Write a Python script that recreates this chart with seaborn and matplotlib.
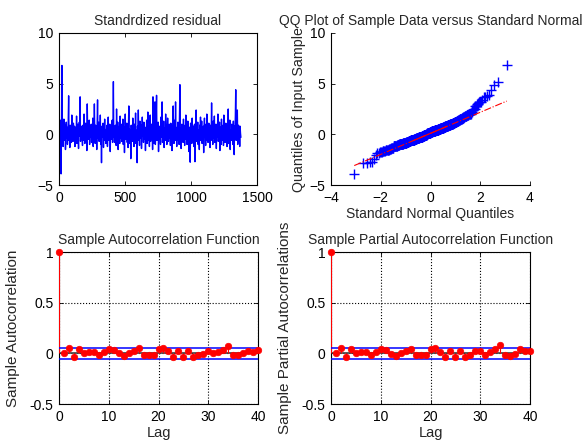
import numpy as np
import matplotlib
matplotlib.use("Agg")
import matplotlib.pyplot as plt
import seaborn as sns
from statistics import NormalDist

# standardized residuals (one value every 3 samples)
resid = [
    0.8, -0.9, 0.3, 1.4, -0.5, -3.9, 0.6, 6.8, -0.2, 1.1, -1.2, 0.1, 1.5, -0.6, 0.4, 0.9, -1.5, 0.0, 1.2, -0.4,
    0.7, -1.0, 0.2, 1.3, 3.8, -0.6, 0.4, -1.3, 0.9, -0.1, 0.5, -0.8, 1.9, -0.3, 0.3, -0.7, 1.1, 0.1, -0.5, 0.8,
    -1.2, 0.3, 0.6, -0.4, 1.8, -0.9, 0.1, 1.0, -0.2, -1.4, 0.5, 1.2, -0.2, 3.7, -0.7, 0.3, 0.8, -0.5, 0.0, -1.1,
    0.9, 0.4, -0.6, 2.0, -0.1, -0.9, 0.6, 1.1, -0.4, 0.2, -1.6, 3.0, 0.3, -0.5, 0.7, -0.1, 1.4, -1.0, 0.4, -0.3,
    0.1, 1.0, -0.8, 0.5, -0.2, 1.6, -1.2, 0.3, -0.5, 3.0, 0.1, -0.9, 0.9, -0.3, 0.5, -1.5, 0.7, 3.4, -0.4, 0.2,
    1.2, -0.7, 0.3, -0.1, 1.9, -1.0, 0.4, -2.8, 0.8, -0.3, 0.1, 1.1, -1.3, 0.6, -0.2, 1.5, -0.6, 0.3, -0.9, 0.5,
    -0.1, 0.9, -1.2, 0.2, 1.7, -0.6, 0.5, -0.3, 1.0, -1.7, 0.3, 0.7, -0.5, 0.0, 1.4, -0.8, 0.4, 5.2, -0.3, 0.6,
    -0.8, 0.3, 0.9, -0.2, -1.1, 2.5, 0.1, -0.6, 1.2, -1.5, 0.5, 0.0, 0.8, -0.9, 1.8, -0.4, 0.2, 1.0, -0.7, 0.3,
    -0.3, 1.5, -1.0, 0.4, 0.7, -1.8, 0.2, 2.0, -0.5, 0.6, -0.1, 1.1, -0.8, 0.3, -1.3, 0.8, 2.8, -0.4, 0.5, -0.9,
    0.4, -2.4, 0.9, -0.2, 0.6, -0.7, 1.6, -0.3, 0.1, -1.2, 1.0, 0.1, -0.6, 2.1, -0.9, 0.4, -0.3, -2.8, 0.8, -0.1,
    2.4, -0.6, 0.5, -1.1, 1.3, 0.0, -0.4, 0.9, -1.4, 0.3, 1.7, -0.2, 0.6, -0.8, 1.2, -0.5, 0.2, 0.7, -1.6, 0.4,
    -0.1, 1.4, -0.9, 0.3, 2.2, -0.6, 0.8, -0.3, -1.2, 0.6, 1.9, -0.7, 0.1, 1.0, -0.4, 0.5, -1.5, 3.7, 0.1, -0.9,
    1.0, -0.4, 3.2, -1.0, 0.3, 1.5, 3.85, -0.6, 0.4, -0.1, 1.2, -1.7, 0.6, 0.8, -0.5, 0.2, -1.0, 1.7, -0.3, 0.7,
    3.2, -0.8, 0.4, -0.2, 1.3, -1.3, 0.6, 0.1, -0.6, 2.0, -0.3, 0.9, -1.0, 0.3, 1.6, -0.1, -0.7, 0.5, 1.0, -0.4,
    0.1, -1.1, 1.1, -0.3, 0.6, -1.6, 0.8, -0.5, 2.8, 0.2, -0.9, 0.4, 1.4, -0.6, 3.2, -0.1, 0.3, -1.2, 0.7, -0.2,
    1.2, -0.6, 0.3, -1.0, 1.8, 4.9, -0.4, 0.6, -1.4, 0.1, 1.0, -0.3, 0.5, -0.8, 1.5, -0.1, 0.4, -1.1, 0.9, -0.5,
    1.9, -0.1, 0.6, -1.0, 0.2, 1.3, -0.6, 0.4, -1.7, 0.7, -0.4, -2.75, 1.1, -0.2, 0.5, -0.9, 1.6, 0.0, -0.6, 0.8,
    -1.2, 0.4, 1.0, -2.7, 0.1, -0.4, 2.4, -0.7, 0.6, -0.3, 1.2, -1.0, 0.4, 0.1, -1.5, 0.9, -0.3, 1.7, -0.6, 0.3,
    1.3, -0.9, 0.2, -0.5, 0.8, -1.8, 0.6, 1.6, -0.3, 0.4, -1.1, 1.0, -0.1, 2.0, -0.6, 0.4, -0.8, 0.1, 1.1, -0.4,
    0.6, -1.3, 0.3, 0.9, -0.2, 3.1, -0.6, 0.5, -1.0, 1.3, 0.0, -0.4, 1.8, -0.8, 0.3, -0.1, 1.0, -1.4, 0.6, -0.3,
    0.8, 2.0, -0.7, 0.4, -0.3, 1.2, -1.6, 0.2, 0.7, -1.0, 1.5, -0.1, 0.3, -0.6, 0.9, -1.1, 1.9, -0.1, 0.5, -0.8,
    0.4, 1.1, -0.5, 0.1, -1.2, 0.7, -0.2, 2.5, -0.9, 0.6, -0.3, 1.4, -1.5, 0.4, 0.1, -0.6, 1.0, -0.3, 0.7, -1.0,
    1.3, -0.4, -2.0, 0.8, 0.2, 1.8, 4.4, -0.6, 1.5, -0.1, 2.4, -1.0, 0.4, 0.9, -0.7, 0.5, -1.2, 0.8, 0.1, -0.3,
]
step = 3

# sample ACF / PACF, lags 0..40
acf = [1.0, 0.005, 0.055, -0.04, 0.045, 0.0, 0.01, 0.01, -0.015, 0.01,
       0.04, 0.03, 0.0, -0.03, 0.0, 0.02, 0.05, -0.02, -0.02, -0.015,
       0.04, 0.05, 0.02, -0.04, 0.02, -0.04, 0.025, -0.04, -0.02, -0.005,
       0.02, 0.0, 0.01, 0.035, 0.075, -0.02, -0.02, 0.0, 0.025, 0.015, 0.03]
pacf = [1.0, 0.0, 0.055, -0.04, 0.045, 0.0, 0.01, 0.01, -0.015, 0.01,
        0.04, 0.035, -0.01, -0.03, 0.0, 0.02, 0.045, -0.02, -0.02, -0.02,
        0.04, 0.05, 0.01, -0.04, 0.02, -0.04, 0.02, -0.04, -0.02, 0.02,
        0.02, -0.015, 0.01, 0.045, 0.08, -0.02, -0.03, -0.005, 0.04, 0.02, 0.02]
bound = 0.054

sns.set_theme(style="white")
plt.rcParams['font.family'] = ['Liberation Sans', 'DejaVu Sans']
plt.rcParams['font.size'] = 10
plt.rcParams['xtick.direction'] = 'in'
plt.rcParams['ytick.direction'] = 'in'
plt.rcParams['xtick.major.size'] = 3
plt.rcParams['ytick.major.size'] = 3
plt.rcParams['xtick.major.pad'] = 4
plt.rcParams['ytick.major.pad'] = 4
plt.rcParams['axes.linewidth'] = 0.8
plt.rcParams['axes.edgecolor'] = 'black'
plt.rcParams['xtick.color'] = 'black'
plt.rcParams['ytick.color'] = 'black'

fig = plt.figure(figsize=(5.85, 4.44), dpi=100)
W, H = 585.0, 444.0
def axes_px(l, t, r, b):
    return fig.add_axes([l / W, 1 - b / H, (r - l) / W, (b - t) / H])

ax1 = axes_px(59, 33, 257, 185)
ax2 = axes_px(331, 33, 530, 185)
ax3 = axes_px(59, 252, 258, 404)
ax4 = axes_px(331, 252, 530, 404)

def matlab_box(ax, box=True):
    for s in ax.spines.values():
        s.set_visible(box)
        s.set_color('black')
    ax.spines['left'].set_visible(True)
    ax.spines['bottom'].set_visible(True)
    ax.tick_params(top=box, right=box, bottom=True, left=True, labelsize=10, width=0.6)

# residual series
t = np.arange(len(resid)) * step + 1
sns.lineplot(x=t, y=resid, ax=ax1, color='blue', lw=1.0, estimator=None)
ax1.set_xlim(0, 1500)
ax1.set_ylim(-5, 10)
ax1.set_xticks([0, 500, 1000, 1500])
ax1.set_yticks([-5, 0, 5, 10])
ax1.set_title('Standrdized residual', fontsize=10, pad=6)
matlab_box(ax1)

# QQ plot
nd = NormalDist()
srt = np.sort(resid)
n = len(srt)
zq = np.array([nd.inv_cdf((i - 0.5) / n) for i in range(1, n + 1)])
q1, q3 = np.percentile(srt, [25, 75])
z1, z3 = nd.inv_cdf(0.25), nd.inv_cdf(0.75)
slope = (q3 - q1) / (z3 - z1)
icpt = q1 - slope * z1
xs = np.array([zq.min(), zq.max()])
ax2.plot(xs, icpt + slope * xs, color='red', ls='-.', lw=0.8)
ax2.plot([z1, z3], [q1, q3], color='red', lw=0.8)
sns.scatterplot(x=zq, y=srt, ax=ax2, marker='+', color='blue', s=60, linewidth=1.0)
ax2.set_xlim(-4, 4)
ax2.set_ylim(-5, 10)
ax2.set_xticks([-4, -2, 0, 2, 4])
ax2.set_yticks([-5, 0, 5, 10])
ax2.set_title('QQ Plot of Sample Data versus Standard Normal', fontsize=10, pad=6)
ax2.set_xlabel('Standard Normal Quantiles', fontsize=10, labelpad=2)
ax2.set_ylabel('Quantiles of Input Sample', fontsize=10.3)
ax2.yaxis.set_label_coords(-0.128, 0.5)
matlab_box(ax2, box=False)

def stem_panel(ax, vals, title, ylabel):
    lags = np.arange(len(vals))
    ax.grid(True, ls=':', color='black', lw=0.8)
    ax.axhline(0, color='#404040', lw=1.2, zorder=2)
    ax.vlines(lags, 0, vals, color='red', lw=0.8, zorder=3)
    ax.plot([0, 40], [bound, bound], color='blue', lw=1.1, zorder=3)
    ax.plot([0, 40], [-bound, -bound], color='blue', lw=1.1, zorder=3)
    sns.scatterplot(x=lags, y=vals, ax=ax, color='red', s=22, edgecolor='red', linewidth=0.5,
                    zorder=4, clip_on=False)
    ax.set_xlim(0, 40)
    ax.set_ylim(-0.5, 1)
    ax.set_xticks([0, 10, 20, 30, 40])
    ax.set_yticks([-0.5, 0, 0.5, 1])
    ax.set_yticklabels(['-0.5', '0', '0.5', '1'])
    ax.set_title(title, fontsize=10, pad=6)
    ax.set_xlabel('Lag', fontsize=10.5, labelpad=2)
    ax.set_ylabel(ylabel, fontsize=11)
    ax.yaxis.set_label_coords(-0.194, 0.5)
    matlab_box(ax)

stem_panel(ax3, acf, 'Sample Autocorrelation Function', 'Sample Autocorrelation')
stem_panel(ax4, pacf, 'Sample Partial Autocorrelation Function', 'Sample Partial Autocorrelations')

fig.savefig('out.png', dpi=100, facecolor='white')
